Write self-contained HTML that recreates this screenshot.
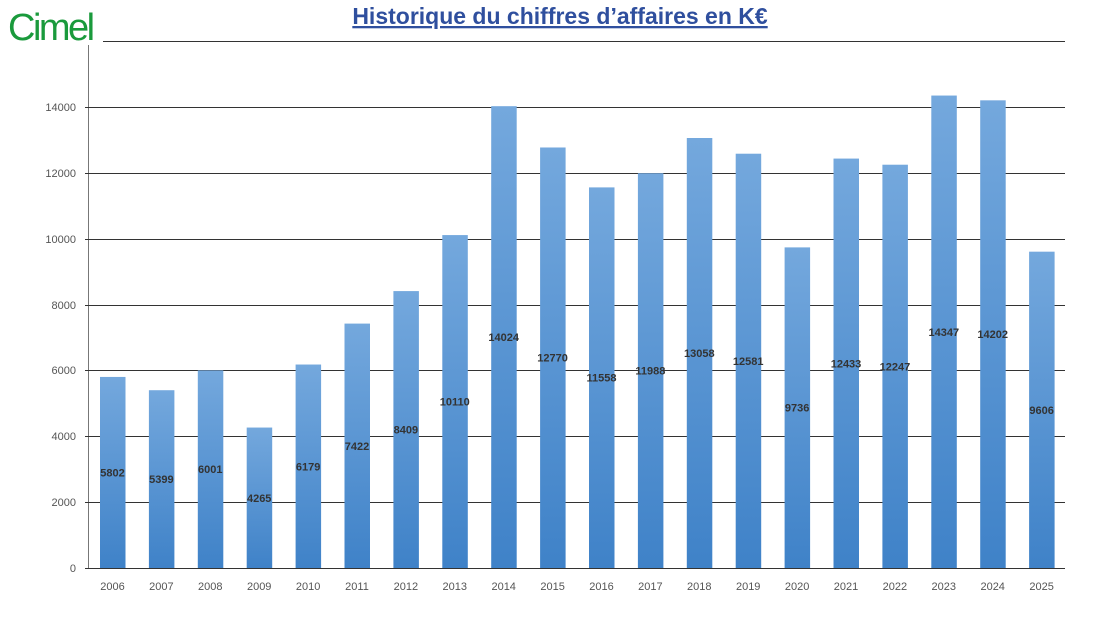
<!DOCTYPE html>
<html><head><meta charset="utf-8"><style>
body{margin:0;background:#fff;width:1100px;height:618px;overflow:hidden;font-family:"Liberation Sans",sans-serif}
</style></head><body>
<svg width="1100" height="618" xmlns="http://www.w3.org/2000/svg">
<defs><linearGradient id="g" x1="0" y1="0" x2="0" y2="1"><stop offset="0" stop-color="#74a8dd"/><stop offset="1" stop-color="#3f82c8"/></linearGradient></defs>
<text x="8" y="40" font-family="Liberation Sans,sans-serif" font-size="38" fill="#1a9a3c" letter-spacing="-2.5">Cimel</text>
<text x="560" y="24" text-anchor="middle" font-family="Liberation Sans,sans-serif" font-size="23" font-weight="bold" fill="#2f4f9e" text-decoration="underline">Historique du chiffres d’affaires en K€</text>
<line x1="103" y1="41.5" x2="1065" y2="41.5" stroke="#333" stroke-width="1"/>
<line x1="88.5" y1="45" x2="88.5" y2="568" stroke="#777" stroke-width="1"/>
<g stroke="#333" stroke-width="1">
<line x1="85" y1="107.5" x2="1065" y2="107.5"/><line x1="85" y1="173.5" x2="1065" y2="173.5"/><line x1="85" y1="239.5" x2="1065" y2="239.5"/><line x1="85" y1="305.5" x2="1065" y2="305.5"/><line x1="85" y1="370.5" x2="1065" y2="370.5"/><line x1="85" y1="436.5" x2="1065" y2="436.5"/><line x1="85" y1="502.5" x2="1065" y2="502.5"/><line x1="85" y1="568.5" x2="1065" y2="568.5"/>
</g>
<g font-size="11" fill="#555" text-anchor="end">
<text x="76" y="111">14000</text><text x="76" y="177">12000</text><text x="76" y="243">10000</text><text x="76" y="309">8000</text><text x="76" y="374">6000</text><text x="76" y="440">4000</text><text x="76" y="506">2000</text><text x="76" y="572">0</text>
</g>
<g id="bars"></g>
</svg>
<script>
var d=[5802,5399,6001,4265,6179,7422,8409,10110,14024,12770,11558,11988,13058,12581,9736,12433,12247,14347,14202,9606];
var s='';
d.forEach(function(v,i){var x=100+i*48.9,y=568-v*0.03293,c=x+12.5;
s+='<rect x="'+x+'" y="'+y+'" width="25.5" height="'+(568-y)+'" fill="url(#g)"/>';
s+='<text x="'+c+'" y="'+((y+568)/2+4)+'" text-anchor="middle" font-size="11" font-weight="bold" fill="#333">'+v+'</text>';
s+='<text x="'+c+'" y="590" text-anchor="middle" font-size="11" fill="#555">'+(2006+i)+'</text>';});
document.getElementById('bars').innerHTML=s;
</script>
</body></html>
